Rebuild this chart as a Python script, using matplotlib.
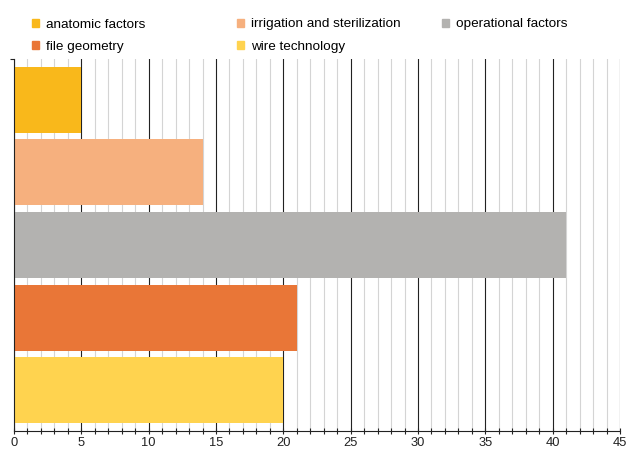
import matplotlib.pyplot as plt
from matplotlib.patches import Patch
from matplotlib.ticker import MultipleLocator

plt.rcParams['font.family'] = ['Liberation Sans', 'DejaVu Sans']

# data
categories = ["anatomic factors", "irrigation and sterilization", "operational factors",
              "file geometry", "wire technology"]
values = [5, 14, 41, 21, 20]
colors = ["#F9B81B", "#F6B07E", "#B3B2B0", "#E97637", "#FFD34F"]

fig = plt.figure(figsize=(6.27, 4.5), dpi=100)
ax = fig.add_axes([14 / 627, 1 - 431 / 450, 606 / 627, 372 / 450])

ax.barh(range(len(categories)), values, height=0.91, color=colors, zorder=3)
ax.set_ylim(len(categories) - 0.44, -0.56)
ax.set_xlim(0, 45)

# grid: light lines every 1, dark lines every 5
ax.xaxis.set_major_locator(MultipleLocator(5))
ax.xaxis.set_minor_locator(MultipleLocator(1))
ax.grid(which='minor', axis='x', color='#d4d4d4', linewidth=0.8, zorder=0)
ax.grid(which='major', axis='x', color='#222222', linewidth=0.8, zorder=1)
ax.tick_params(axis='x', which='both', direction='inout', width=0.8,
               labelsize=9.3, pad=1.5, colors='#222222')
ax.tick_params(axis='x', which='major', length=5)
ax.tick_params(axis='x', which='minor', length=4)
ax.set_yticks([-0.56])
ax.set_yticklabels([])
ax.tick_params(axis='y', length=3, width=0.8, direction='out', colors='#222222')

for side in ['top', 'right']:
    ax.spines[side].set_visible(False)
ax.spines['left'].set_color('#222222')
ax.spines['bottom'].set_color('#222222')
ax.spines['left'].set_zorder(4)

# legend laid out in three columns
columns = [[0, 3], [1, 4], [2]]
col_x = [32, 237, 442]
for idx, x in zip(columns, col_x):
    handles = [Patch(color=colors[i], label=categories[i]) for i in idx]
    fig.legend(handles=handles, loc='upper left', bbox_to_anchor=(x / 627, 1 - 18.5 / 450),
               frameon=False, fontsize=9.7, handlelength=0.52, handleheight=0.52,
               handletextpad=0.52, labelspacing=0.75, borderaxespad=0, borderpad=0)

fig.savefig("out.png", dpi=100)
